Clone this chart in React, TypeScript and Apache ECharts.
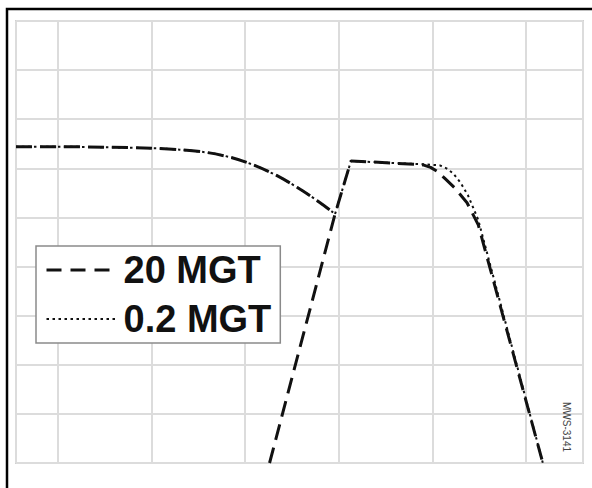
import React, { useEffect, useRef } from "react";
import * as echarts from "echarts";

// Grid units: vertical grid lines at x = 0..5, horizontal at y = 0..9
const leftCurveX = [-0.449, 0, 0.5, 1.0, 1.3, 1.6, 1.85, 2.1, 2.35, 2.6, 2.8, 2.96];
const leftCurveY = [6.44, 6.44, 6.43, 6.41, 6.38, 6.32, 6.22, 6.06, 5.84, 5.56, 5.3, 5.07];

const band20X = [2.26, 2.96, 3.13, 3.55, 3.9, 3.98, 4.05, 4.13, 4.24, 4.37, 4.49, 5.18];
const band20Y = [0, 5.07, 6.15, 6.11, 6.07, 6.02, 5.94, 5.8, 5.6, 5.3, 4.85, 0];

const band02X = [2.96, 3.13, 3.55, 3.94, 4.08, 4.15, 4.22, 4.3, 4.38, 4.49, 5.18];
const band02Y = [5.07, 6.15, 6.11, 6.08, 6.06, 6.0, 5.9, 5.71, 5.45, 4.95, 0];

const seriesNames = ["20 MGT", "0.2 MGT"];
const figureId = "MWS-3141";

const zip = (xs: number[], ys: number[]) => xs.map((x, i) => [x, ys[i]]);

export default function App() {
  const ref = useRef<HTMLDivElement>(null);
  useEffect(() => {
    if (!ref.current) return;
    const chart = echarts.init(ref.current, null, { renderer: "svg" });
    const dashStyle = { color: "#111", width: 3, type: [16, 8] as number[] };
    const dotStyle = { color: "#111", width: 2, type: [2.5, 3.5] as number[] };
    chart.setOption({
      animation: false,
      backgroundColor: "#fff",
      grid: {
        left: 16,
        top: 21,
        right: 9,
        bottom: 25,
        show: true,
        borderColor: "#d0d0d0",
        borderWidth: 2,
        backgroundColor: "#fff",
      },
      xAxis: {
        type: "value",
        min: -0.449,
        max: 5.609,
        splitNumber: 6,
        minInterval: 1,
        maxInterval: 1,
        axisLine: { show: false },
        axisTick: { show: false },
        axisLabel: { show: false },
        splitLine: { show: true, lineStyle: { color: "#dcdcdc", width: 2 } },
      },
      yAxis: {
        type: "value",
        min: 0,
        max: 9,
        interval: 1,
        axisLine: { show: false },
        axisTick: { show: false },
        axisLabel: { show: false },
        splitLine: { show: true, lineStyle: { color: "#dcdcdc", width: 2 } },
      },
      legend: {
        orient: "vertical",
        left: 36,
        top: 246,
        padding: [5, 9, 5, 9],
        itemGap: 11,
        itemWidth: 72,
        itemHeight: 20,
        backgroundColor: "#fff",
        borderColor: "#8a8a8a",
        borderWidth: 1.5,
        borderRadius: 0,
        selectedMode: false,
        itemStyle: { opacity: 0, borderWidth: 0 },
        textStyle: {
          fontFamily: "Liberation Sans, Arial, sans-serif",
          fontWeight: "bold",
          fontSize: 38,
          color: "#111",
        },
        data: [
          { name: seriesNames[0], lineStyle: { width: 3, type: [15, 9], color: "#111" } },
          { name: seriesNames[1], lineStyle: { width: 2, type: [2.5, 3.5], color: "#111" } },
        ],
      },
      series: [
        {
          name: seriesNames[0],
          type: "line",
          symbol: "none",
          smooth: 0.3,
          data: zip(leftCurveX, leftCurveY),
          lineStyle: dashStyle,
          itemStyle: { color: "#111" },
        },
        {
          name: seriesNames[0],
          type: "line",
          symbol: "none",
          data: zip(band20X, band20Y),
          lineStyle: dashStyle,
          itemStyle: { color: "#111" },
        },
        {
          name: seriesNames[1],
          type: "line",
          symbol: "none",
          smooth: 0.3,
          data: zip(leftCurveX, leftCurveY),
          lineStyle: dotStyle,
          itemStyle: { color: "#111" },
        },
        {
          name: seriesNames[1],
          type: "line",
          symbol: "none",
          data: zip(band02X, band02Y),
          lineStyle: dotStyle,
          itemStyle: { color: "#111" },
        },
      ],
      graphic: [
        {
          type: "rect",
          shape: { x: 7, y: 9, width: 700, height: 700 },
          style: { fill: "none", stroke: "#000", lineWidth: 2.5 },
          silent: true,
          z: 100,
        },
        {
          type: "text",
          x: 571,
          y: 402,
          rotation: -Math.PI / 2,
          style: {
            text: figureId,
            fontSize: 10,
            fontFamily: "Liberation Sans, Arial, sans-serif",
            fill: "#444",
          },
          z: 100,
        },
      ],
    });
    return () => chart.dispose();
  }, []);
  return (
    <div
      ref={ref}
      style={{ position: "fixed", left: 0, top: 0, width: 592, height: 488 }}
    />
  );
}
